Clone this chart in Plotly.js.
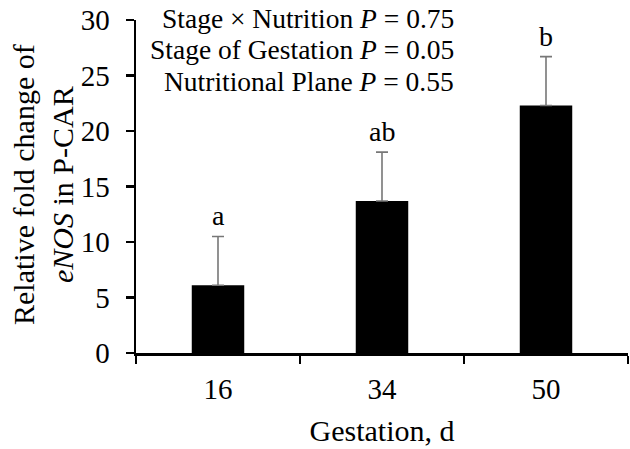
<!DOCTYPE html>
<html>
<head>
<meta charset="utf-8">
<script src="https://cdn.plot.ly/plotly-3.0.1.min.js"></script>
<style>html,body{margin:0;padding:0;background:#fff;}#chart{width:630px;height:449px;}</style>
</head>
<body>
<div id="chart"></div>
<script>
const categories = ["16", "34", "50"];
const foldChange = [6.1, 13.7, 22.3];
const errorUpper = [4.4, 4.4, 4.4];
const letters = ["a", "ab", "b"];
const statLines = [
  "Stage × Nutrition <i>P</i> = 0.75",
  "Stage of Gestation <i>P</i> = 0.05",
  "Nutritional Plane <i>P</i> = 0.55"
];

const font = "Liberation Serif";

const trace = {
  type: "bar",
  x: categories,
  y: foldChange,
  width: 0.32,
  marker: {color: "#000000", line: {width: 0}},
  error_y: {
    type: "data",
    symmetric: false,
    array: errorUpper,
    arrayminus: foldChange.map(() => 0),
    color: "#777777",
    thickness: 1.6,
    width: 6
  },
  hoverinfo: "skip"
};

const annotations = categories.map((c, i) => ({
  x: i, y: foldChange[i] + errorUpper[i],
  xref: "x", yref: "y",
  text: letters[i], showarrow: false,
  yanchor: "bottom", yshift: 3,
  font: {family: font, size: 28, color: "#000"}
}));

statLines.forEach((t, i) => {
  annotations.push({
    xref: "paper", yref: "paper",
    x: (456 - 136) / 492, y: (353 - (19 + 31 * i)) / 333,
    xanchor: "right", yanchor: "middle", align: "right",
    text: t,
    showarrow: false,
    font: {family: font, size: 27.5, color: "#000"}
  });
});

annotations.push({
  xref: "paper", yref: "paper",
  x: (43 - 136) / 492, y: (353 - 185) / 333,
  xanchor: "center", yanchor: "middle",
  textangle: -90,
  text: "Relative fold change of<br><i>eNOS</i> in P-CAR",
  showarrow: false,
  font: {family: font, size: 30, color: "#000"}
});

const layout = {
  width: 630, height: 449,
  margin: {l: 136, r: 2, t: 20, b: 96},
  paper_bgcolor: "#fff", plot_bgcolor: "#fff",
  showlegend: false,
  font: {family: font, color: "#000"},
  xaxis: {
    type: "category",
    range: [-0.5, 2.5],
    showline: true, linecolor: "#000", linewidth: 2.5,
    ticks: "outside", tickson: "boundaries", ticklen: 8, tickwidth: 2.5, tickcolor: "#000",
    tickfont: {family: font, size: 29, color: "#000"},
    ticklabelstandoff: 9,
    showgrid: false, zeroline: false,
    title: {text: "Gestation, d", font: {family: font, size: 30, color: "#000"}, standoff: 16}
  },
  yaxis: {
    range: [0, 30],
    dtick: 5,
    showline: true, linecolor: "#000", linewidth: 2.5,
    ticks: "outside", ticklen: 8, tickwidth: 2.5, tickcolor: "#000",
    tickfont: {family: font, size: 29, color: "#000"},
    ticklabelstandoff: 10,
    showgrid: false, zeroline: false
  },
  annotations: annotations
};

Plotly.newPlot("chart", [trace], layout, {displayModeBar: false, staticPlot: true});
</script>
</body>
</html>
